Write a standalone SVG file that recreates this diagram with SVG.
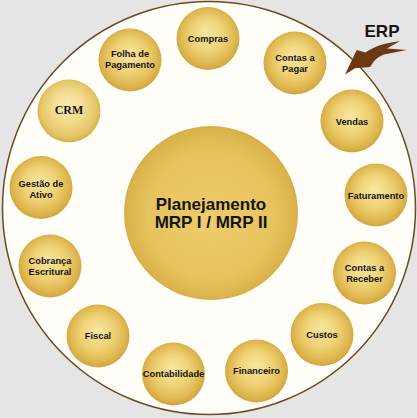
<svg xmlns="http://www.w3.org/2000/svg" width="417" height="418" viewBox="0 0 417 418">
  <defs>
    <radialGradient id="ball" cx="50%" cy="48%" r="52%" fx="48%" fy="40%">
      <stop offset="0" stop-color="#f7e6a2"/>
      <stop offset="0.5" stop-color="#efd276"/>
      <stop offset="0.82" stop-color="#e0b952"/>
      <stop offset="1" stop-color="#d1a53e"/>
    </radialGradient>
    <radialGradient id="ballPale" cx="50%" cy="48%" r="52%" fx="48%" fy="38%">
      <stop offset="0" stop-color="#f8eab0"/>
      <stop offset="0.5" stop-color="#f1da8e"/>
      <stop offset="0.85" stop-color="#e5c566"/>
      <stop offset="1" stop-color="#d6b04c"/>
    </radialGradient>
    <radialGradient id="bigBall" cx="50%" cy="50%" r="52%" fx="50%" fy="55%">
      <stop offset="0" stop-color="#eecd6a"/>
      <stop offset="0.7" stop-color="#e6c35c"/>
      <stop offset="0.92" stop-color="#dcb44e"/>
      <stop offset="1" stop-color="#d2a744"/>
    </radialGradient>
  </defs>
  <style>
    .ball { fill: url(#ball); }
    .lbl { font-family: "Liberation Sans", Arial, sans-serif; font-weight: bold; font-size: 9.3px; fill: #141414; text-anchor: middle; }
    .big { font-family: "Liberation Sans", Arial, sans-serif; font-weight: bold; font-size: 17px; fill: #141414; text-anchor: middle; }
  </style>
  <rect x="0" y="0" width="417" height="418" fill="#e5e5e5"/>
  <circle cx="209" cy="208" r="206.5" fill="#fefdf8" stroke="#6a4a20" stroke-width="1.5"/>

  <g id="center">
    <circle cx="211" cy="213" r="87" fill="url(#bigBall)"/>
    <text class="big" x="211" y="209.5">Planejamento</text>
    <text class="big" x="211" y="228">MRP I / MRP II</text>
  </g>

  <g id="compras">
    <circle class="ball" cx="208" cy="38.5" r="31.5"/>
    <text class="lbl" x="208" y="42.3">Compras</text>
  </g>
  <g id="folha">
    <circle class="ball" cx="130" cy="60" r="31.5"/>
    <text class="lbl" x="130" y="57.3">Folha de</text>
    <text class="lbl" x="130" y="67.5">Pagamento</text>
  </g>
  <g id="contas-pagar">
    <circle class="ball" cx="295" cy="63" r="31.5"/>
    <text class="lbl" x="295" y="61.3">Contas a</text>
    <text class="lbl" x="295" y="71.5">Pagar</text>
  </g>
  <g id="crm">
    <circle cx="69" cy="111" r="31.5" fill="url(#ballPale)"/>
    <text x="69" y="114.3" text-anchor="middle" font-family="'Liberation Serif', 'Times New Roman', serif" font-weight="bold" font-size="12" fill="#141414">CRM</text>
  </g>
  <g id="vendas">
    <circle class="ball" cx="352" cy="121" r="31.5"/>
    <text class="lbl" x="352" y="125.3">Vendas</text>
  </g>
  <g id="gestao">
    <circle class="ball" cx="41" cy="187.5" r="31.5"/>
    <text class="lbl" x="41" y="187.3">Gestão de</text>
    <text class="lbl" x="41" y="197.5">Ativo</text>
  </g>
  <g id="faturamento">
    <circle class="ball" cx="376" cy="195" r="31.5"/>
    <text class="lbl" x="376" y="199.3">Faturamento</text>
  </g>
  <g id="cobranca">
    <circle class="ball" cx="50" cy="266" r="31.5"/>
    <text class="lbl" x="50" y="264.3">Cobrança</text>
    <text class="lbl" x="50" y="274.8">Escritural</text>
  </g>
  <g id="contas-receber">
    <circle class="ball" cx="364.5" cy="273" r="31.5"/>
    <text class="lbl" x="364.5" y="271.3">Contas a</text>
    <text class="lbl" x="364.5" y="281.5">Receber</text>
  </g>
  <g id="fiscal">
    <circle class="ball" cx="98" cy="336" r="31.5"/>
    <text class="lbl" x="98" y="339.3">Fiscal</text>
  </g>
  <g id="custos">
    <circle class="ball" cx="322" cy="334.5" r="31.5"/>
    <text class="lbl" x="322" y="338.3">Custos</text>
  </g>
  <g id="contabilidade">
    <circle class="ball" cx="173.5" cy="374" r="31.5"/>
    <text class="lbl" x="173.5" y="377.3">Contabilidade</text>
  </g>
  <g id="financeiro">
    <circle class="ball" cx="256.5" cy="371" r="31.5"/>
    <text class="lbl" x="256.5" y="373.8">Financeiro</text>
  </g>

  <g id="connectors">
    <g id="erp">
      <text x="382" y="37" text-anchor="middle" font-family="'Liberation Sans', Arial, sans-serif" font-weight="bold" font-size="17" fill="#141414">ERP</text>
      <path d="M345,74.5 L356.7,50 L365.5,52.5 Q375,46 386,43.5 L400,41 L387,48.5 L406.7,50 L384,54.5 Q377,57 373.5,62 L370,67 L355,68.3 Z" fill="#6b3a12"/>
    </g>
  </g>
</svg>
